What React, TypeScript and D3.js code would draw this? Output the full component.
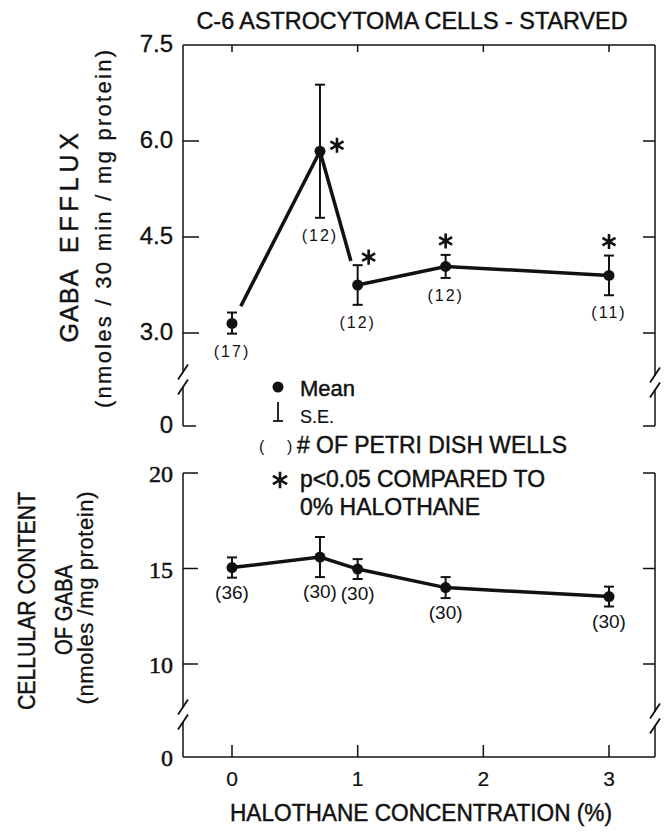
import React from 'react';
import * as d3 from 'd3';

// halothane concentration (%) for each group
const concentrations = [0, 0.7, 1.0, 1.7, 3.0];

// GABA efflux (nmoles / 30 min / mg protein)
const effluxMean = [3.15, 5.84, 3.75, 4.04, 3.9];
const effluxSE = [0.17, 1.04, 0.31, 0.18, 0.31];
const effluxN = [17, 12, 12, 12, 11];
const effluxSig = [false, true, true, true, true];

// cellular content of GABA (nmoles / mg protein)
const contentMean = [15.05, 15.6, 14.97, 14.0, 13.53];
const contentSE = [0.53, 1.05, 0.52, 0.55, 0.52];
const contentN = [36, 30, 30, 30, 30];

const xTicks = [0, 1, 2, 3];
const effluxTicks = [0, 3.0, 4.5, 6.0, 7.5];
const contentTicks = [0, 10, 15, 20];

const SANS = '"Liberation Sans", Arial, Helvetica, sans-serif';
const SERIF = '"Liberation Serif", "Times New Roman", serif';
const INK = '#111';
const HEAVY = 0.45; // printed type is a bit heavier than the regular face

const W = 667;
const H = 834;
const left = 183;
const right = 655;

// where the asterisks sit relative to each point
const starPlace = [
  null,
  { dx: 17, dy: -6, ref: 'mean' },
  { dx: 11, dy: -8, ref: 'hi' },
  { dx: 0, dy: -14, ref: 'hi' },
  { dx: 0, dy: -14, ref: 'hi' },
];

const lerp = (a: number[], b: number[], t: number): [number, number] => [
  a[0] + (b[0] - a[0]) * t,
  a[1] + (b[1] - a[1]) * t,
];

// axis line with a "//" break
function BrokenAxis({ x, y0, y1, yb }: { x: number; y0: number; y1: number; yb: number }) {
  return (
    <g stroke={INK} strokeWidth={1.5} fill="none">
      <line x1={x} x2={x} y1={y0} y2={yb - 7} />
      <line x1={x} x2={x} y1={yb + 7} y2={y1} />
      <line x1={x - 5} y1={yb} x2={x + 5} y2={yb - 15} strokeWidth={1.8} />
      <line x1={x - 5} y1={yb + 15} x2={x + 5} y2={yb} strokeWidth={1.8} />
    </g>
  );
}

function Label(props: any) {
  const { children, heavy = HEAVY, ...rest } = props;
  return (
    <text fontFamily={SANS} fill={INK} stroke={INK} strokeWidth={heavy} {...rest}>
      {children}
    </text>
  );
}

function Points({ means, ses, ns, y, nSize, nSpacing, nGap }: any) {
  const x = d3.scaleLinear().domain([0, 3]).range([232, 609]);
  return (
    <g>
      {concentrations.map((c, i) => {
        const cx = x(c);
        const hi = y(means[i] + ses[i]);
        const lo = y(means[i] - ses[i]);
        return (
          <g key={i}>
            <g stroke={INK} strokeWidth={2}>
              <line x1={cx} x2={cx} y1={hi} y2={lo} />
              <line x1={cx - 5} x2={cx + 5} y1={hi} y2={hi} />
              <line x1={cx - 5} x2={cx + 5} y1={lo} y2={lo} />
            </g>
            <circle cx={cx} cy={y(means[i])} r={5.5} fill={INK} />
            <text
              x={cx}
              y={lo + nGap}
              textAnchor="middle"
              fontFamily={SANS}
              fontSize={nSize}
              letterSpacing={nSpacing}
              fill={INK}
            >
              {`(${ns[i]})`}
            </text>
          </g>
        );
      })}
    </g>
  );
}

export default function App() {
  const x = d3.scaleLinear().domain([0, 3]).range([232, 609]);
  const yTop = d3.scaleLinear().domain([0, 3, 7.5]).range([426, 333, 45]);
  const yBot = d3.scaleLinear().domain([0, 10, 20]).range([757, 664, 473]);

  const star = d3.symbol(d3.symbolAsterisk, 160)() as string;
  const bigStar = d3.symbol(d3.symbolAsterisk, 190)() as string;
  const line = d3.line();

  const topPts = concentrations.map((c, i) => [x(c), yTop(effluxMean[i])] as [number, number]);
  const topSegments = [
    [lerp(topPts[0], topPts[1], 0.1), topPts[1]],
    [topPts[1], lerp(topPts[1], topPts[2], 0.82)],
    topPts.slice(2),
  ];
  const botPts = concentrations.map((c, i) => [x(c), yBot(contentMean[i])] as [number, number]);

  const topBreak = (yTop(0) + yTop(3)) / 2;
  const botBreak = (yBot(0) + yBot(10)) / 2 + 4;

  return (
    <svg
      width={W}
      height={H}
      style={{ position: 'absolute', left: 0, top: 0, background: '#fff' }}
    >
      {/* title */}
      <Label x={412} y={29} textAnchor="middle" fontSize={24} textLength={431} lengthAdjust="spacingAndGlyphs">
        C-6 ASTROCYTOMA  CELLS - STARVED
      </Label>

      {/* ---------- top panel ---------- */}
      <g stroke={INK} strokeWidth={1.5}>
        <line x1={left} x2={right} y1={yTop(7.5)} y2={yTop(7.5)} />
        {xTicks.map((t) => (
          <line key={t} x1={x(t)} x2={x(t)} y1={yTop(7.5)} y2={yTop(7.5) + 7} />
        ))}
        {effluxTicks.slice(0, 4).map((t) => (
          <g key={t}>
            <line x1={left} x2={left + (t === 0 ? 13 : 16)} y1={yTop(t)} y2={yTop(t)} />
            <line x1={right - 12} x2={right} y1={yTop(t)} y2={yTop(t)} />
          </g>
        ))}
      </g>
      <BrokenAxis x={left} y0={yTop(7.5)} y1={yTop(0)} yb={topBreak} />
      <BrokenAxis x={right} y0={yTop(7.5)} y1={yTop(0)} yb={topBreak + 3} />
      {effluxTicks.map((t) => (
        <Label key={t} x={173} y={yTop(t)} dy="0.3em" textAnchor="end" fontSize={24} heavy={0.3}>
          {t === 0 ? '0' : t.toFixed(1)}
        </Label>
      ))}
      <Label transform="translate(78,306) rotate(-90)" textAnchor="middle" fontSize={25} textLength={73} lengthAdjust="spacing">
        GABA
      </Label>
      <Label transform="translate(78,193) rotate(-90)" textAnchor="middle" fontSize={25} textLength={120} lengthAdjust="spacing">
        EFFLUX
      </Label>
      <Label
        transform="translate(111,229) rotate(-90)"
        textAnchor="middle"
        fontSize={22}
        textLength={358}
        lengthAdjust="spacing"
        heavy={0.3}
      >
        (nmoles / 30 min / mg protein)
      </Label>

      {topSegments.map((s, i) => (
        <path key={i} d={line(s as [number, number][]) as string} fill="none" stroke={INK} strokeWidth={3.5} />
      ))}
      <Points means={effluxMean} ses={effluxSE} ns={effluxN} y={yTop} nSize={16} nSpacing={2} nGap={23} />
      {concentrations.map((c, i) => {
        const p = starPlace[i];
        if (!effluxSig[i] || !p) return null;
        const base = p.ref === 'mean' ? yTop(effluxMean[i]) : yTop(effluxMean[i] + effluxSE[i]);
        return (
          <path
            key={i}
            d={star}
            transform={`translate(${x(c) + p.dx},${base + p.dy})`}
            fill="none"
            stroke={INK}
            strokeWidth={2.6}
          />
        );
      })}

      {/* ---------- legend ---------- */}
      <circle cx={278} cy={387} r={5.5} fill={INK} />
      <Label x={300} y={396} fontSize={22}>Mean</Label>
      <g stroke={INK} strokeWidth={1.8}>
        <line x1={278} x2={278} y1={402} y2={421} />
        <line x1={273} x2={283} y1={421} y2={421} />
      </g>
      <Label x={300} y={423} fontSize={18} heavy={0.2}>S.E.</Label>
      <Label x={259} y={452} fontSize={16} heavy={0}>(</Label>
      <Label x={287} y={452} fontSize={16} heavy={0}>)</Label>
      <Label x={297} y={453} fontSize={23} textLength={270} lengthAdjust="spacingAndGlyphs">
        # OF PETRI DISH WELLS
      </Label>
      <path d={bigStar} transform="translate(280,480)" fill="none" stroke={INK} strokeWidth={2.6} />
      <Label x={300} y={487} fontSize={23} textLength={245} lengthAdjust="spacingAndGlyphs">
        p&lt;0.05 COMPARED TO
      </Label>
      <Label x={300} y={515} fontSize={23} textLength={180} lengthAdjust="spacingAndGlyphs">
        0% HALOTHANE
      </Label>

      {/* ---------- bottom panel ---------- */}
      <g stroke={INK} strokeWidth={1.5}>
        <line x1={left} x2={right} y1={yBot(0)} y2={yBot(0)} />
        {xTicks.map((t) => (
          <line key={t} x1={x(t)} x2={x(t)} y1={yBot(0)} y2={yBot(0) - 12} />
        ))}
        {contentTicks.slice(1).map((t) => (
          <g key={t}>
            <line x1={left} x2={left + 15} y1={yBot(t)} y2={yBot(t)} />
            <line x1={right - 12} x2={right} y1={yBot(t)} y2={yBot(t)} />
          </g>
        ))}
      </g>
      <BrokenAxis x={left} y0={yBot(20)} y1={yBot(0)} yb={botBreak} />
      <BrokenAxis x={right} y0={yBot(20)} y1={yBot(0)} yb={botBreak + 4} />
      {contentTicks.map((t) => (
        <Label key={t} x={173} y={yBot(t)} dy="0.38em" textAnchor="end" fontFamily={SERIF} fontSize={24} heavy={0.5}>
          {String(t)}
        </Label>
      ))}
      {xTicks.map((t) => (
        <Label key={t} x={x(t)} y={786} textAnchor="middle" fontSize={21} heavy={0.2}>
          {String(t)}
        </Label>
      ))}
      <Label x={421} y={821} textAnchor="middle" fontSize={23} textLength={382} lengthAdjust="spacingAndGlyphs">
        HALOTHANE CONCENTRATION (%)
      </Label>
      <Label transform="translate(35,601) rotate(-90)" textAnchor="middle" fontSize={24} textLength={218} lengthAdjust="spacingAndGlyphs">
        CELLULAR CONTENT
      </Label>
      <Label transform="translate(72,610) rotate(-90)" textAnchor="middle" fontSize={24} textLength={90} lengthAdjust="spacingAndGlyphs">
        OF GABA
      </Label>
      <Label
        transform="translate(93,598) rotate(-90)"
        textAnchor="middle"
        fontSize={22}
        textLength={213}
        lengthAdjust="spacing"
        heavy={0.3}
      >
        (nmoles /mg protein)
      </Label>

      <path d={line(botPts) as string} fill="none" stroke={INK} strokeWidth={3.5} />
      <Points means={contentMean} ses={contentSE} ns={contentN} y={yBot} nSize={19} nSpacing={0} nGap={21} />
    </svg>
  );
}
